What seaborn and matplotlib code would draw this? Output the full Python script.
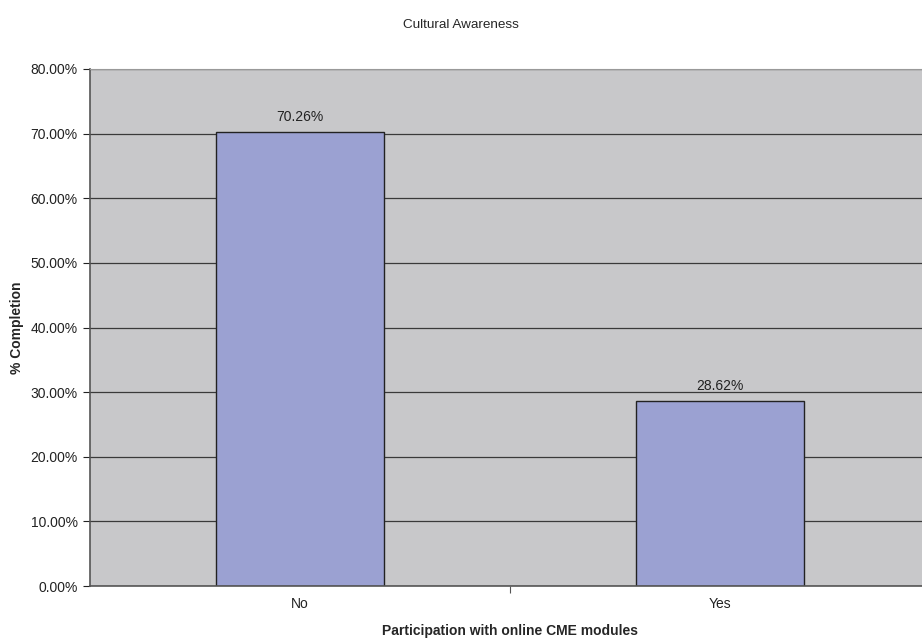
import pandas as pd
import numpy as np
import seaborn as sns
import matplotlib.pyplot as plt
from matplotlib.ticker import FuncFormatter, FixedLocator

categorias = ['No', 'Yes']
porcentajes = [70.26, 28.62]
etiquetas = ['70.26%', '28.62%']

sns.set_style('white')
plt.rcParams['font.family'] = ['Liberation Sans', 'DejaVu Sans']

df = pd.DataFrame({'participacion': categorias, 'completado': porcentajes})

fig = plt.figure(figsize=(9.22, 6.38), dpi=100)
ax = fig.add_axes([90 / 922, 52 / 638, 840 / 922, 517 / 638])   # el area llega un poco mas alla del borde, como en el original
ax.set_facecolor('#C8C8CA')

sns.barplot(data=df, x='participacion', y='completado', ax=ax, color='#9BA1D2',
            width=0.4, edgecolor='#222222', linewidth=1, saturation=1)

ax.set_ylim(0, 80)
ax.set_xlim(-0.5, 1.5)
ax.set_yticks(np.arange(0, 81, 10))
ax.yaxis.set_major_formatter(FuncFormatter(lambda v, p: f'{v:.2f}%'))
ax.grid(axis='y', color='#3a3a3a', linewidth=0.9)
ax.set_axisbelow(True)

for i, txt in enumerate(etiquetas):
    ax.text(i, porcentajes[i] + 2.3, txt, ha='center', va='center', fontsize=10, color='#222222')

# ticks del eje x en los limites de categoria, etiquetas en el centro
ax.xaxis.set_major_locator(FixedLocator([0.5]))
ax.xaxis.set_minor_locator(FixedLocator([0, 1]))
ax.set_xticklabels([''])
ax.set_xticklabels(categorias, minor=True)
ax.tick_params(axis='x', which='minor', length=0, labelsize=10, pad=8, colors='#222222')
ax.tick_params(axis='x', which='major', length=5, direction='out', color='#555555')
ax.tick_params(axis='y', length=5, direction='out', labelsize=10, pad=4, colors='#222222')
ax.tick_params(axis='x', which='major', bottom=True)
ax.tick_params(axis='y', left=True)

for lado in ['left', 'bottom']:
    ax.spines[lado].set_color('#555555')
    ax.spines[lado].set_linewidth(1.2)
ax.spines['top'].set_color('#999999')
ax.spines['right'].set_visible(False)

ax.set_xlabel('Participation with online CME modules', fontsize=10, fontweight='bold')
ax.set_ylabel('% Completion', fontsize=10, fontweight='bold')
ax.xaxis.set_label_coords(510 / 922 * 922 / 840 - 90 / 840, -45 / 517)
ax.xaxis.label.set_va('center')
ax.yaxis.set_label_coords((17 - 90) / 840, 0.5)
ax.yaxis.label.set_va('center')
fig.text(461 / 922, 1 - 25 / 638, 'Cultural Awareness', ha='center', va='center', fontsize=9.7)

fig.savefig('out.png', dpi=100)
